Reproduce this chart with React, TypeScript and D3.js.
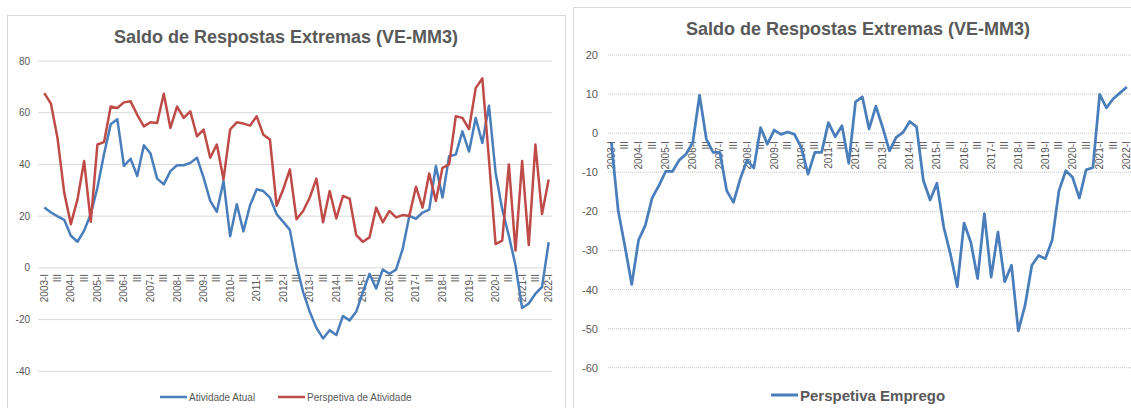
import React from 'react';
import * as d3 from 'd3';

// quarters 2003-I .. 2022-I
const YEARS = d3.range(2003, 2023);
const QUARTERS = ['I', 'II', 'III', 'IV'];
const CATEGORIES: string[] = [];
YEARS.forEach(y => QUARTERS.forEach(q => {
  if (y < 2022 || q === 'I') CATEGORIES.push(`${y}-${q}`);
}));

const ATIVIDADE_ATUAL = [
  23.3, 21.4, 19.9, 18.6, 12.4, 10.1, 14.4, 20.8, 31, 44, 55.5, 57.5, 39.4, 42.2, 35.5, 47.4,
  44.2, 34.5, 32.3, 37.4, 39.7, 39.7, 40.6, 42.6, 34.9, 25.9, 21.7, 33.6, 12.2, 24.6, 14.1, 24.2,
  30.4, 29.7, 27.2, 20.8, 17.8, 14.7, 0.9, -9.4, -17, -23.2, -27.3, -24.1, -26, -18.6, -20.3, -17,
  -9.4, -2.3, -8, -0.6, -2.3, -0.7, 7.3, 20.1, 19, 21.4, 22.5, 39.4, 27.2, 43.2, 43.8, 52.8,
  45, 58, 48.3, 62.7, 36.8, 22.7, 12.4, 1, -15.5, -13.8, -10, -7.4, 9.9,
];

const PERSPETIVA_ATIVIDADE = [
  67.6, 63.5, 50, 29.1, 16.9, 26.5, 41.3, 17.8, 47.7, 48.6, 62.4, 61.8, 64, 64.4, 59.2, 54.7,
  56.3, 56, 67.3, 54.1, 62.4, 58, 60.5, 50.9, 53.5, 42.6, 47.7, 34.2, 53.5, 56.3, 55.8, 55,
  58.6, 51.5, 49.6, 24, 30.4, 38.1, 18.8, 22, 27.2, 34.5, 17.6, 29.7, 19.1, 27.8, 26.8, 12.7,
  10.1, 11.8, 23.3, 17.6, 22, 19.5, 20.4, 20.1, 31.4, 23.3, 36.5, 25.9, 38.7, 40, 58.6, 58,
  53.7, 69.5, 73.3, 42, 9.2, 10.5, 40, 6.7, 41.3, 8.8, 47.7, 20.8, 34.2,
];

const PERSPETIVA_EMPREGO = [
  -2.4, -19.8, -29, -38.7, -27.4, -23.6, -16.6, -13.4, -9.8, -9.8, -6.9, -5.4, -2.4, 9.7, -1.5, -4.9,
  -4.9, -14.7, -17.7, -11.7, -6.9, -8.9, 1.4, -2.8, 0.8, -0.3, 0.3, -0.3, -3.7, -10.5, -4.9, -4.9,
  2.7, -0.9, 1.9, -7.7, 8, 9.3, 1.1, 6.9, 1.5, -4.5, -1.1, 0.2, 3, 1.6, -12.1, -17.1,
  -12.8, -24, -31, -39.3, -23, -27.9, -37.2, -20.6, -36.8, -25.3, -38, -33.8, -50.6, -44, -33.8, -31.3,
  -32.1, -27.3, -14.7, -9.6, -11.3, -16.6, -9.4, -8.8, 9.9, 6.5, 8.8, 10.3, 11.8,
];

const LEFT_TICKS = [80, 60, 40, 20, 0, -20, -40];
const RIGHT_TICKS = [20, 10, 0, -10, -20, -30, -40, -50, -60];

const TITLE = 'Saldo de Respostas Extremas (VE-MM3)';
const BLUE = '#4a7ebb';
const RED = '#be4b48';
const TEXT = '#595959';
const GRID = '#d9d9d9';
const FONT = '"Liberation Sans", Arial, sans-serif';

function tickText(cat: string, i: number) {
  if (i % 4 === 0) return cat;
  if (i % 4 === 2) return 'III';
  return '';
}

function XLabels({ x, y0, dy }: { x: d3.ScaleBand<string>; y0: number; dy: number }) {
  return (
    <g>
      {CATEGORIES.map((c, i) => {
        const t = tickText(c, i);
        if (!t) return null;
        const cx = (x(c) as number) + x.bandwidth() / 2;
        return (
          <text key={c} transform={`translate(${cx},${y0 + dy}) rotate(-90)`}
            textAnchor="end" dominantBaseline="central" fontSize={10} fill={TEXT}>{t}</text>
        );
      })}
    </g>
  );
}

function LeftChart() {
  const x = d3.scaleBand<string>().domain(CATEGORIES).range([41, 552]);
  const y = d3.scaleLinear().domain([-40, 80]).range([371.3, 61]);
  const line = d3.line<number>()
    .x((_, i) => (x(CATEGORIES[i]) as number) + x.bandwidth() / 2)
    .y(d => y(d));
  return (
    <g fontFamily={FONT}>
      <rect x={7.5} y={15.5} width={558} height={400} fill="#fff" stroke={GRID} />
      <text x={286} y={37} textAnchor="middle" dominantBaseline="central" fontSize={18} fontWeight="bold" fill={TEXT}>{TITLE}</text>
      {LEFT_TICKS.map(t => (
        <g key={t}>
          <line x1={38} x2={552} y1={y(t)} y2={y(t)} stroke={GRID} />
          <text x={30} y={y(t)} textAnchor="end" dominantBaseline="central" fontSize={10} fill={TEXT}>{t}</text>
        </g>
      ))}
      <XLabels x={x} y0={y(0)} dy={6} />
      <path d={line(ATIVIDADE_ATUAL) ?? ''} fill="none" stroke={BLUE} strokeWidth={2.5} strokeLinejoin="round" />
      <path d={line(PERSPETIVA_ATIVIDADE) ?? ''} fill="none" stroke={RED} strokeWidth={2.5} strokeLinejoin="round" />
      <line x1={160} x2={187} y1={397} y2={397} stroke={BLUE} strokeWidth={2.5} />
      <text x={189} y={397} dominantBaseline="central" fontSize={10} fill={TEXT}>Atividade Atual</text>
      <line x1={278} x2={305} y1={397} y2={397} stroke={RED} strokeWidth={2.5} />
      <text x={307} y={397} dominantBaseline="central" fontSize={10} fill={TEXT}>Perspetiva de Atividade</text>
    </g>
  );
}

function RightChart() {
  const x = d3.scaleBand<string>().domain(CATEGORIES).range([608, 1130.2]);
  const y = d3.scaleLinear().domain([-60, 20]).range([367.7, 55]);
  const line = d3.line<number>()
    .x((_, i) => (x(CATEGORIES[i]) as number) + x.bandwidth() / 2)
    .y(d => y(d));
  return (
    <g fontFamily={FONT}>
      <rect x={573.5} y={7.5} width={570} height={410} fill="#fff" stroke={GRID} />
      <text x={858} y={29} textAnchor="middle" dominantBaseline="central" fontSize={18} fontWeight="bold" fill={TEXT}>{TITLE}</text>
      {RIGHT_TICKS.map(t => (
        <g key={t}>
          <line x1={608} x2={1131} y1={y(t)} y2={y(t)} stroke="#c8c8c8" strokeDasharray="1,1" />
          <text x={598} y={y(t)} textAnchor="end" dominantBaseline="central" fontSize={11} fill={TEXT}>{t}</text>
        </g>
      ))}
      <XLabels x={x} y0={y(0)} dy={8} />
      <path d={line(PERSPETIVA_EMPREGO) ?? ''} fill="none" stroke={BLUE} strokeWidth={2.75} strokeLinejoin="round" />
      <line x1={771} x2={798} y1={395} y2={395} stroke={BLUE} strokeWidth={3} />
      <text x={800} y={395} dominantBaseline="central" fontSize={15} fontWeight="bold" fill={TEXT}>Perspetiva Emprego</text>
    </g>
  );
}

export default function App() {
  return (
    <svg width={1131} height={408} style={{ position: 'absolute', left: 0, top: 0, background: '#fff' }}>
      <LeftChart />
      <RightChart />
    </svg>
  );
}
